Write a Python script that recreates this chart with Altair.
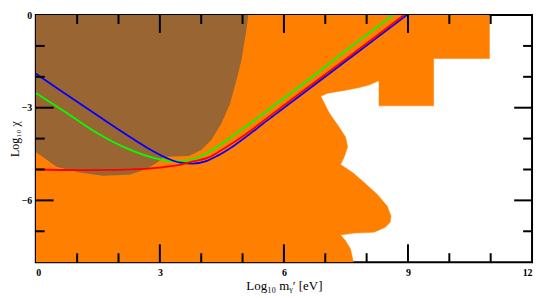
import altair as alt
import pandas as pd

# ---- data ----
# orange region outline (closed polygon, in drawing order)
orange_x = [0.0, 10.97, 10.97, 9.62, 9.62, 8.30, 8.30, 8.09, 7.85, 7.46, 7.06, 6.89, 7.10, 7.30, 7.49,
            7.54, 7.46, 7.37, 7.66, 7.94, 8.26, 8.50, 8.59, 8.57, 8.45, 8.18, 7.70, 7.37, 7.49, 7.61, 7.68, 0.0]
orange_y = [0.0, 0.0, -1.41, -1.41, -2.94, -2.94, -2.12, -2.25, -2.34, -2.44, -2.53, -2.63, -3.18, -3.56, -3.95,
            -4.27, -4.59, -4.84, -5.10, -5.42, -5.81, -6.19, -6.51, -6.71, -6.87, -7.03, -7.06, -7.12, -7.31, -7.57, -8.0, -8.0]

# brown region: lower boundary y as a function of x (top is y=0)
brown_x = [0.0, 0.50, 1.06, 1.61, 2.26, 2.66, 2.93, 3.10, 3.70, 4.01, 4.25, 4.49, 4.70, 4.85, 4.97, 5.09, 5.14]
brown_y = [-4.43, -4.91, -5.10, -5.20, -5.17, -5.00, -4.78, -4.59, -4.56, -4.36, -4.04, -3.50, -2.86, -2.12, -1.48, -0.51, 0.0]

# curves
blue_x = [0.0, 0.65, 1.46, 2.26, 2.8, 3.2, 3.5, 3.8, 4.1, 4.4, 4.8, 5.6, 6.5, 7.5, 8.5, 8.97]
blue_y = [-1.90, -2.49, -3.22, -3.93, -4.38, -4.65, -4.78, -4.81, -4.74, -4.55, -4.22, -3.41, -2.50, -1.49, -0.48, 0.0]
green_x = [0.0, 0.65, 1.46, 2.26, 2.9, 3.2, 3.5, 3.8, 4.1, 4.4, 4.8, 5.6, 6.5, 7.5, 8.64]
green_y = [-2.52, -3.08, -3.80, -4.35, -4.64, -4.72, -4.73, -4.66, -4.50, -4.25, -3.88, -3.09, -2.19, -1.15, 0.0]
red_x = [0.0, 1.0, 2.0, 2.6, 3.0, 3.4, 3.8, 4.2, 4.6, 5.0, 5.6, 6.5, 7.5, 8.5, 8.90]
red_y = [-5.00, -5.02, -5.01, -4.98, -4.94, -4.87, -4.74, -4.60, -4.28, -3.93, -3.33, -2.42, -1.42, -0.41, 0.0]

# ticks
x_major = [3, 6, 9]
x_minor = [1, 2, 4, 5, 7, 8, 10, 11]
y_major = [-3, -6]
y_minor = [-1, -2, -4, -5, -7]
x_labels = [0, 3, 6, 9, 12]
y_labels = [0, -3, -6]

W, H = 500, 249
MAJ, MIN = 18, 9
ORANGE = "#FF8000"
BROWN = "#996633"
FONT = "Liberation Serif"

xs = alt.Scale(domain=[0, 12], nice=False, zero=False)
ys = alt.Scale(domain=[-8, 0], nice=False, zero=False)

xaxis = alt.Axis(values=x_labels, ticks=False, domain=False, grid=False, labelPadding=5,
                 labelFont=FONT, labelFontSize=10, labelColor="black", labelFontWeight="bold",
                 titleFont=FONT, titleFontSize=13, titleFontWeight="normal", titleColor="black",
                 titlePadding=3, title="Log₁₀ mᵧ′ [eV]")
yaxis = alt.Axis(values=y_labels, ticks=False, domain=False, grid=False, labelPadding=4,
                 labelFont=FONT, labelFontSize=10, labelColor="black", labelFontWeight="bold",
                 titleFont=FONT, titleFontSize=12, titleFontWeight="normal", titleColor="black",
                 titlePadding=0, title="Log₁₀ χ")


def X(field):
    return alt.X(field, scale=xs, axis=xaxis)


def Y(field):
    return alt.Y(field, scale=ys, axis=yaxis)


orange_df = pd.DataFrame({"x": orange_x, "y": orange_y, "i": list(range(len(orange_x)))})
brown_df = pd.DataFrame({"x": brown_x, "y": brown_y, "y0": [0.0] * len(brown_x)})

orange_poly = alt.Chart(orange_df).mark_line(
    fill=ORANGE, stroke=ORANGE, strokeWidth=0.5, clip=True).encode(
    x=X("x:Q"), y=Y("y:Q"), order=alt.Order("i:Q"))

brown_area = alt.Chart(brown_df).mark_area(color=BROWN, clip=True).encode(
    x=X("x:Q"), y=Y("y:Q"), y2="y0:Q")


def curve(xv, yv, col):
    df = pd.DataFrame({"x": xv, "y": yv})
    return alt.Chart(df).mark_line(color=col, strokeWidth=1.8, interpolate="monotone", clip=True).encode(
        x=X("x:Q"), y=Y("y:Q"))


lines = [curve(green_x, green_y, "#00FF00"), curve(blue_x, blue_y, "#0000FF"), curve(red_x, red_y, "#FF0000")]


def xticks(vals, length):
    df = pd.DataFrame({"x": vals})
    bot = alt.Chart(df).mark_rule(color="black", strokeWidth=2).encode(
        x=X("x:Q"), y=alt.value(H), y2=alt.value(H - length))
    top = alt.Chart(df).mark_rule(color="black", strokeWidth=2).encode(
        x=X("x:Q"), y=alt.value(0), y2=alt.value(length))
    return [bot, top]


def yticks(vals, length):
    df = pd.DataFrame({"y": vals})
    left = alt.Chart(df).mark_rule(color="black", strokeWidth=2).encode(
        y=Y("y:Q"), x=alt.value(0), x2=alt.value(length))
    right = alt.Chart(df).mark_rule(color="black", strokeWidth=2).encode(
        y=Y("y:Q"), x=alt.value(W), x2=alt.value(W - length))
    return [left, right]


ticks = xticks(x_major, MAJ) + xticks(x_minor, MIN) + yticks(y_major, MAJ) + yticks(y_minor, MIN)

chart = alt.layer(orange_poly, brown_area, *lines, *ticks).properties(
    width=W, height=H,
    autosize=alt.AutoSizeParams(type="none"),
    padding={"left": 28, "top": 6, "right": 5, "bottom": 32},
    background="white",
).configure_view(stroke="black", strokeWidth=2)

chart.save("out.html", embed_options={"renderer": "svg", "actions": False})
